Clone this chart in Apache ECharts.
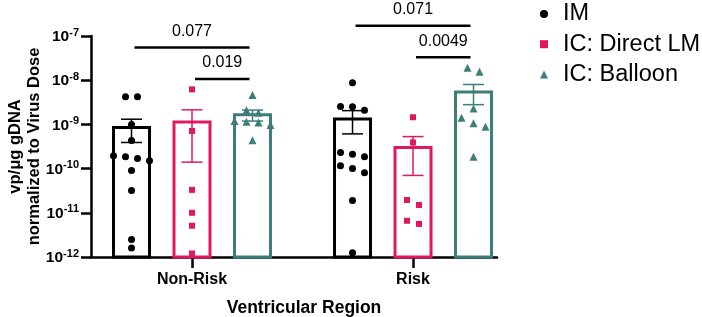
<!DOCTYPE html>
<html>
<head>
<meta charset="utf-8">
<title>vp/ug gDNA by ventricular region</title>
<script src="https://cdn.jsdelivr.net/npm/echarts@6/dist/echarts.min.js"></script>
<style>
  html, body { margin: 0; padding: 0; background: #fff; }
  #main { width: 702px; height: 317px; }
</style>
</head>
<body>
<div id="main"></div>
<script>
// ---- data ----
var regions = ['Non-Risk', 'Risk'];
var groups = ['IM', 'IC: Direct LM', 'IC: Balloon'];

// individual animals (vp/ug gDNA normalised to virus dose)
var imNonRisk = [4.2e-9, 4.2e-9, 1.0e-9, 4.3e-10, 1.95e-10, 1.85e-10, 1.7e-10, 1.5e-10, 9e-11, 3.2e-11, 2.5e-12, 1.6e-12];
var imRisk = [8.7e-9, 2.55e-9, 2.5e-9, 2.1e-9, 2.3e-10, 2.1e-10, 1.85e-10, 1.16e-10, 1.0e-10, 8.1e-11, 1.9e-11, 1.25e-12];
var lmNonRisk = [6.2e-9, 7.1e-10, 3.3e-11, 1.0e-11, 5.1e-12, 1.2e-12];
var lmRisk = [1.45e-9, 3.9e-10, 1.95e-11, 1.5e-11, 6.6e-12, 5.6e-12];
var balloonNonRisk = [4.6e-9, 2.1e-9, 1.84e-9, 1.2e-9, 1.15e-9, 1.1e-9, 9.7e-10, 4.4e-10];
var balloonRisk = [1.92e-8, 1.55e-8, 2.3e-9, 1.42e-9, 1.06e-9, 8.9e-10, 1.85e-10];

// bar = mean, whisker = SEM  [Non-Risk, Risk]
var imMean = [8.5e-10, 1.33e-9];
var imSem = [4.6e-10, 7.2e-10];
var lmMean = [1.14e-9, 3.0e-10];
var lmSem = [1.0e-9, 2.3e-10];
var balloonMean = [1.65e-9, 5.4e-9];
var balloonSem = [4.6e-10, 2.6e-9];

// pairwise comparisons
var cmpRegion = [0, 0, 1, 1];
var cmpFrom = [0, 1, 0, 1];
var cmpTo = [2, 2, 2, 2];
var pValues = ['0.077', '0.019', '0.071', '0.0049'];

// ---- layout / style ----
var colors = ['#000000', '#e1175f', '#3c7e78'];
var symbols = ['circle', 'rect', 'triangle'];
var symbolSizes = [7, 6, 8];
var FONT = '"Liberation Sans", Arial, sans-serif';
var GRID = { left: 91, right: 205, top: 36, bottom: 60 };
var X_MIN = 0.543, X_MAX = 2.38;
var Y_MIN = 1e-12, Y_MAX = 1e-7;
var PX_PER_UNIT = (702 - GRID.left - GRID.right) / (X_MAX - X_MIN);
var PX_PER_DECADE = (317 - GRID.top - GRID.bottom) / 5;
var OFFSETS = [-60.5, 0, 60.5];   // px from region centre
var BAR_W = 36, CAP_W = 21;

var points = [[imNonRisk, imRisk], [lmNonRisk, lmRisk], [balloonNonRisk, balloonRisk]];
var means = [imMean, lmMean, balloonMean];
var sems = [imSem, lmSem, balloonSem];

// column scatter: points at about the same height are spread sideways
function spread(vals, r, k) {
  var order = vals.map(function (v, i) { return i; }).sort(function (a, b) { return vals[b] - vals[a]; });
  var clusters = [], cur = null, prevY = null;
  order.forEach(function (i) {
    var py = -Math.log10(vals[i]) * PX_PER_DECADE;
    if (cur && py - prevY < 8) cur.push(i); else { cur = [i]; clusters.push(cur); }
    prevY = py;
  });
  var out = [];
  clusters.forEach(function (c) {
    c.forEach(function (i, j) {
      var dx = (j - (c.length - 1) / 2) * 12;
      out.push([r + 1 + (OFFSETS[k] + dx) / PX_PER_UNIT, vals[i]]);
    });
  });
  return out;
}

function barRender(k) {
  return function (params, api) {
    var c = api.value(0), m = api.value(1), s = api.value(2);
    var top = api.coord([c, m]);
    var base = api.coord([c, Y_MIN]);
    var x = top[0] + OFFSETS[k];
    var hi = api.coord([c, m + s])[1];
    var lo = api.coord([c, Math.max(m - s, Y_MIN)])[1];
    var ls = { stroke: colors[k], lineWidth: 1.5 };
    return {
      type: 'group',
      children: [
        { type: 'rect', shape: { x: x - BAR_W / 2, y: top[1], width: BAR_W, height: base[1] - top[1] },
          style: { fill: 'rgba(0,0,0,0)', stroke: colors[k], lineWidth: 3 } },
        { type: 'line', shape: { x1: x, y1: hi, x2: x, y2: lo }, style: ls },
        { type: 'line', shape: { x1: x - CAP_W / 2, y1: hi, x2: x + CAP_W / 2, y2: hi }, style: ls },
        { type: 'line', shape: { x1: x - CAP_W / 2, y1: lo, x2: x + CAP_W / 2, y2: lo }, style: ls }
      ]
    };
  };
}

var series = [];
groups.forEach(function (g, k) {
  series.push({
    name: g + ' mean',
    type: 'custom',
    renderItem: barRender(k),
    encode: { x: 0, y: 1 },
    data: regions.map(function (r, i) { return [i + 1, means[k][i], sems[k][i]]; }),
    z: 2,
    silent: true,
    animation: false
  });
});
groups.forEach(function (g, k) {
  var d = [];
  regions.forEach(function (r, i) { d = d.concat(spread(points[k][i], i, k)); });
  series.push({
    name: g,
    type: 'scatter',
    symbol: symbols[k],
    symbolSize: symbolSizes[k],
    itemStyle: { color: colors[k], opacity: 1 },
    data: d,
    z: 4,
    animation: false
  });
});

// significance brackets
var cmpData = pValues.map(function (p, i) {
  var r = cmpRegion[i], mx = 0;
  for (var k = cmpFrom[i]; k <= cmpTo[i]; k++) {
    points[k][r].forEach(function (v) { if (v > mx) mx = v; });
  }
  return [r + 1, mx, i];
});
series.push({
  name: 'p',
  type: 'custom',
  clip: false,
  encode: { x: 0, y: 1 },
  data: cmpData,
  z: 5,
  silent: true,
  animation: false,
  renderItem: function (params, api) {
    var c = api.value(0), mx = api.value(1), i = api.value(2);
    var tier = cmpTo[i] - cmpFrom[i] - 1;
    var p = api.coord([c, mx]);
    var y = p[1] - 10.5 - tier * 31.5;
    var x1 = p[0] + OFFSETS[cmpFrom[i]] + 3;
    var x2 = p[0] + OFFSETS[cmpTo[i]] - 3;
    return {
      type: 'group',
      children: [
        { type: 'line', shape: { x1: x1, y1: y, x2: x2, y2: y }, style: { stroke: '#000', lineWidth: 2.5 } },
        { type: 'text', style: { text: pValues[i], x: (x1 + x2) / 2, y: y - 16, fill: '#000',
            font: '16px ' + FONT, align: 'center', verticalAlign: 'middle',
            textAlign: 'center', textVerticalAlign: 'middle' } }
      ]
    };
  }
});

var chart = echarts.init(document.getElementById('main'), null, { renderer: 'canvas' });
chart.setOption({
  backgroundColor: '#ffffff',
  animation: false,
  textStyle: { fontFamily: FONT },
  grid: {
    left: GRID.left, right: GRID.right, top: GRID.top, bottom: GRID.bottom,
    containLabel: false,
    outerBoundsMode: 'none'
  },
  legend: {
    orient: 'vertical',
    left: 535,
    top: -3,
    itemWidth: 8,
    itemHeight: 8,
    itemGap: 6.2,
    selectedMode: false,
    data: groups.map(function (g, k) { return { name: g, icon: symbols[k] }; }),
    textStyle: { fontSize: 23.5, lineHeight: 23.5, color: '#000', fontFamily: FONT, padding: [0, 0, 0, 10] }
  },
  xAxis: {
    type: 'value',
    min: X_MIN,
    max: X_MAX,
    name: 'Ventricular Region',
    nameLocation: 'middle',
    nameGap: 42,
    nameMoveOverlap: false,
    nameTextStyle: { fontSize: 17.5, fontWeight: 'bold', color: '#000', fontFamily: FONT, padding: [0, 0, 0, 20] },
    splitLine: { show: false },
    axisLine: { onZero: false, lineStyle: { color: '#000', width: 2.5 } },
    axisTick: { customValues: [1, 2], length: 11, lineStyle: { color: '#000', width: 2.5 } },
    axisLabel: {
      customValues: [1, 2],
      margin: 15,
      fontSize: 16,
      fontWeight: 'bold',
      color: '#000',
      fontFamily: FONT,
      formatter: function (v) { return regions[Math.round(v) - 1]; }
    }
  },
  yAxis: {
    type: 'log',
    logBase: 10,
    min: Y_MIN,
    max: Y_MAX,
    name: 'vp/μg gDNA\nnormalized to Virus Dose',
    nameLocation: 'middle',
    nameGap: 47,
    nameMoveOverlap: false,
    nameTextStyle: { fontSize: 16.5, fontWeight: 'bold', lineHeight: 19, color: '#000', fontFamily: FONT },
    splitLine: { show: false },
    minorTick: { show: false },
    axisLine: { show: true, lineStyle: { color: '#000', width: 2.5 } },
    axisTick: { show: true, inside: false, length: 10, lineStyle: { color: '#000', width: 2.5 } },
    axisLabel: {
      margin: 12,
      fontSize: 15.5,
      fontWeight: 'bold',
      color: '#000',
      fontFamily: FONT,
      formatter: function (v) {
        return '{b|10}{s|' + Math.round(Math.log10(v)) + '}';
      },
      rich: {
        b: { fontSize: 15.5, fontWeight: 'bold', color: '#000', fontFamily: FONT, lineHeight: 18, verticalAlign: 'bottom' },
        s: { fontSize: 11, fontWeight: 'bold', color: '#000', fontFamily: FONT, lineHeight: 11, verticalAlign: 'top' }
      }
    }
  },
  series: series
});
</script>
</body>
</html>
